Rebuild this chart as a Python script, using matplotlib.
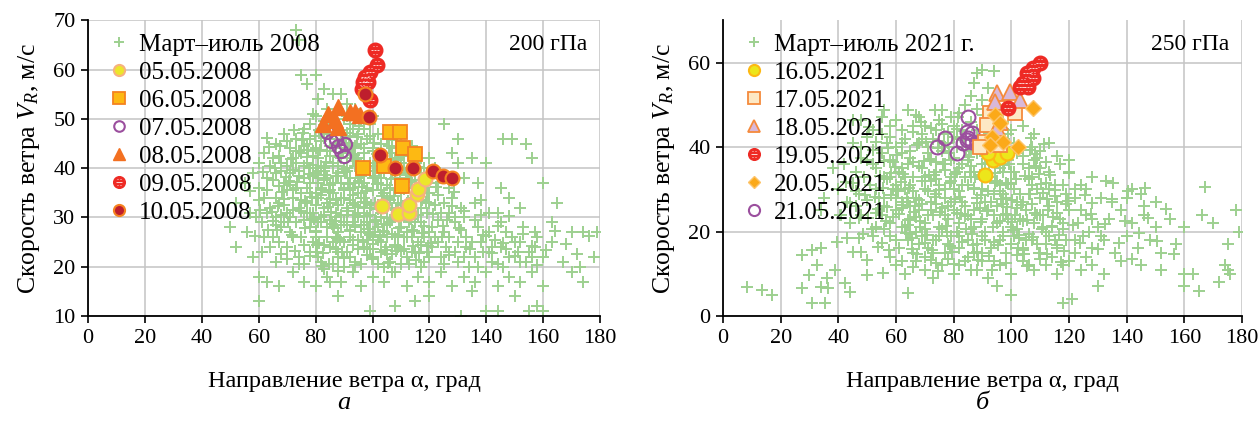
import matplotlib
matplotlib.use("Agg")
import matplotlib.pyplot as plt
from matplotlib.path import Path
from matplotlib.legend_handler import HandlerTuple

plt.rcParams['font.family'] = ['Liberation Serif', 'DejaVu Serif']
plt.rcParams['mathtext.fontset'] = 'custom'
plt.rcParams['mathtext.rm'] = 'Liberation Serif'
plt.rcParams['mathtext.it'] = 'Liberation Serif:italic'

# ---------------- data: panel a (200 hPa, 2008) ----------------
cloud_2008 = [
    (73,68),(74,66),(75,59),(80,59),(77,57),(83,56),(86,55),(89,55),(81,54),(91,53),(84,52),(88,52),(94,52),
    (79,51),(86,50),(96,50),(92,49),(99,49),(76,48),(82,48),(84,47),(95,47),(102,47),(69,47),(73,46),(78,46),
    (90,46),(98,46),(105,46),(66,45),(71,44),(80,44),(87,44),(93,44),(100,44),(107,44),(112,44),(125,49),
    (130,46),(146,46),(149,46),(154,45),(156,42),(120,42),(128,43),(135,42),
    (62,43),(65,42),(68,41),(72,42),(75,43),(77,41),(81,42),(83,40),(86,41),(89,42),(91,40),(95,42),(97,41),
    (101,41),(103,43),(106,41),(109,42),(111,40),(115,41),(118,40),(122,40),(60,41),(58,39),(130,41),(140,41),
    (55,37),(60,36),(63,38),(66,39),(69,37),(71,39),(73,36),(76,38),(78,37),(80,39),(82,36),(84,38),(86,37),
    (88,39),(90,36),(92,38),(94,37),(96,39),(98,36),(100,38),(102,37),(104,39),(106,36),(108,38),(110,37),
    (113,39),(116,36),(119,38),(123,37),(127,36),(132,38),(137,37),(145,36),(160,37),
    (52,33),(57,31),(62,34),(64,32),(67,33),(70,31),(72,34),(74,32),(77,33),(79,31),(81,34),(83,32),(85,33),
    (87,31),(89,34),(91,32),(93,33),(95,31),(97,34),(99,32),(101,33),(103,31),(105,34),(107,32),(109,33),
    (111,31),(114,34),(117,32),(120,33),(124,31),(128,34),(131,32),(136,33),(141,31),(148,34),(152,32),(165,33),
    (50,28),(56,27),(61,29),(65,26),(68,28),(71,27),(73,29),(75,26),(78,28),(80,27),(82,29),(84,26),(86,28),
    (88,27),(90,29),(92,26),(94,28),(96,27),(98,29),(100,26),(102,28),(104,27),(106,29),(108,26),(110,28),
    (112,27),(115,29),(118,26),(121,28),(125,27),(129,29),(133,26),(137,28),(141,27),(145,29),(149,26),
    (153,28),(157,27),(163,29),(170,27),(174,27),(179,27),
    (52,24),(58,22),(61,23),(66,21),(70,24),(74,22),(78,23),(82,21),(85,24),(88,22),(91,23),(94,21),(97,24),
    (100,22),(103,23),(106,21),(109,24),(112,22),(115,23),(118,21),(121,24),(124,22),(127,23),(130,21),
    (133,24),(136,22),(139,23),(142,21),(145,24),(148,22),(151,23),(154,21),(157,24),(160,22),(163,25),
    (167,21),(173,20),(178,22),
    (60,18),(63,17),(67,16),(72,19),(76,17),(80,16),(84,18),(89,17),(93,19),(96,16),(100,18),(104,17),
    (108,19),(112,16),(116,18),(120,17),(124,19),(128,16),(132,18),(136,17),(140,19),(144,16),(148,18),
    (152,17),(156,19),(160,16),(174,17),(170,19),
    (60,13),(99,11),(108,12),(115,13),(131,10),(140,11),(144,11),(155,11),(158,12),(160,11),(88,14),
    (120,14),(150,14),(135,15),
    (76,44.5),(79,42.5),(81,39.5),(83,37.5),(85,35.5),(87,33.5),(89,30.5),(91,28.5),(93,25.5),(95,23.5),
    (84,43.5),(86,40.5),(88,38.5),(90,35.5),(92,33.5),(94,30.5),(96,28.5),(98,25.5),(100,23.5),(102,20.5),
    (80,35),(82,30),(84,28),(86,25),(88,23),(90,20),(99,41),(101,38.5),(103,35.5),(105,32.5),(107,29.5),
    (109,26.5),(111,23.5),(113,20.5),(97,44),(93,41.5),(78,40),(74,38.5),(70,35.5),(68,30.5),(66,28.5),
    (64,24),(77,31),(79,25),(81,22),(83,19.5),(85,17),(95,35),(97,32),(99,29),(101,27),(103,25),(105,22.5),
    (107,19),(110,35),(112,30),(114,26),(116,25),(119,23),(122,26),(126,24),(130,25),(134,20),(138,25),
    (142,24),(146,20),(150,25),(155,23),(117,39),(114,36),(120,35),(125,33),(129,30),(73,41),(75,35),
    (71,30),(87,46),(91,44),(85,47),(92,46.5),(94,44.5),
    (78,49),(80,50.5),(83,49.5),(87,48.5),(90,50),(93,48),(97,48),(100,50.5),
    (70,45.5),(74,43.5),(77,45),(82,45.5),(85,44.5),(89,45.5),(92,43),(96,45),(99,46.5),(103,45),(106,43),
    (110,45.5),(114,44.5),
    (64,40.5),(67,42.5),(70,40.5),(73,43.5),(76,40.5),(79,43.5),(82,40.5),(85,42.5),(88,40.5),(91,42),
    (94,40.5),(97,43),(100,40.5),(104,41.5),(107,43),(110,41),(113,42.5),(117,42),
    (65,37.5),(68,39.5),(71,36.5),(74,39.5),(77,36),(79,38.5),(81,37),(83,39.5),(85,36.5),(87,38.5),(89,37),
    (91,39.5),(93,36),(95,38),(97,37),(99,39.5),(103,38),(105,36.5),(107,39.5),(109,36),(112,38),(115,37.5),
    (118,36.5),(121,38.5),
    (60,33.5),(63,35.5),(66,34),(69,32.5),(72,35.5),(75,33.5),(78,35),(80,32.5),(82,34.5),(84,33),(86,35),
    (88,32.5),(90,34),(92,35.5),(94,32.5),(96,34),(98,33),(100,35.5),(102,32.5),(104,35),(106,33.5),
    (108,35.5),(110,32.5),(113,32),(116,34.5),(119,35),(122,32.5),
    (59,30),(63,31),(66,30),(69,29),(72,31.5),(76,29.5),(78,31),(81,29),(83,30.5),(85,29.5),(87,30),(89,28.5),
    (91,30.5),(93,29),(95,30),(97,28.5),(99,30.5),(101,29.5),(103,30),(105,28.5),(108,30.5),(110,29.5),
    (113,29),(116,30.5),(119,31),(123,29.5),(127,31),(132,30),(138,30.5),(144,31),
    (62,26),(67,25),(72,26),(76,24.5),(80,26),(83,24.5),(87,26),(90,25),(92,27.5),(95,25.5),(99,26.5),
    (102,25.5),(105,26),(108,24.5),(111,26),(114,27.5),(117,24.5),(120,27),(123,25),(127,26),(131,27.5),
    (135,25),(139,26.5),(143,25.5),(147,27),(152,25),(158,26),
    (70,21.5),(76,20.5),(80,23),(86,20.5),(92,22),(96,20.5),(99,23.5),(104,20),(107,22.5),(110,20.5),
    (114,23),(117,20),(120,22),(125,20.5),(129,23),(132,22),(137,20),(141,23),(144,20.5),(147,23.5),
    (152,21),(156,22),
    (63.5,44.2),(65.8,40.1),(67.2,36.3),(68.9,33.8),(70.4,29.1),(71.7,26.4),(72.8,23.2),(74.3,20.6),
    (75.6,47.2),(76.9,42.3),(77.8,38.9),(78.7,34.2),(79.4,29.7),(80.2,27.3),(81.3,24.8),(82.1,20.1),
    (82.9,46.1),(83.8,41.2),(84.6,35.2),(85.4,31.1),(86.3,27.9),(87.1,23.6),(87.9,19.2),(88.8,47.8),
    (89.6,43.1),(90.5,39.2),(91.3,31.4),(92.2,27.2),(93.1,24.4),(93.9,20.3),(94.7,46.3),(95.6,39.8),
    (96.4,36.2),(97.3,33.1),(98.1,30.2),(98.9,26.8),(99.8,21.6),(100.6,45.2),(101.5,42.8),(102.3,39.6),
    (103.2,34.3),(104.1,28.6),(104.9,24.1),(105.8,44.6),(106.6,37.8),(107.5,34.4),(108.3,31.6),(109.2,27.9),
    (110.1,23.1),(110.9,42.4),(111.8,38.6),(112.6,33.3),(113.5,29.6),(114.3,24.2),(115.2,21.3),(116.1,40.2),
    (117.3,33.5),(118.2,28.2),(64.6,31.2),(66.3,27.4),(67.8,22.6),(69.5,38.2),(71.2,41.8),(73.6,37.2),
    (74.8,31.3),(76.2,27.8),(78.1,22.2),(79.8,46.6),(81.6,43.7),(83.3,38.6),(85.1,33.7),(86.8,29.2),
    (88.4,25.4),(90.1,21.8),(91.8,45.2),(93.4,42.6),(95.2,37.3),(96.9,30.9),(98.5,27.6),(100.2,24.6),
    (101.9,31.8),(103.6,27.3),(105.3,20.7),(107,45.7),(108.7,41.6),(110.4,30.8),(112.1,26.1),(113.8,44.1),
    (115.6,35.4),(117.5,26.8),(119.4,24.2),(121.2,30.6),(123.1,34.6),(124.9,28.3),(126.8,22.4),(128.6,35.2),
    (130.5,27.8),(132.3,31.4),(134.2,23.6),(136.1,29.4),(138,33.6),(140,26.2),(142,22.8),(144,28.3),
    (146,24.9),(148,30.2),(150,22.2),(153,26.7),(156,24.3),(158,20.4),(161,23.4),(164,27.3),(168,24.6),
    (172,22.6),(176,26.2),
    (75.3,45.8),(77.4,43.6),(79.1,40.7),(80.8,38.1),(82.4,35.6),(84.2,32.1),(85.9,28.6),(87.6,25.8),
    (89.2,22.9),(90.9,47.1),(92.6,44.2),(94.3,41.9),(96.1,38.4),(97.8,35.3),(99.4,32.6),(101.1,29.3),
    (102.8,26.4),(104.4,23.4),(106.1,47.2),(107.8,42.1),(109.5,39.1),(111.2,35.8),(112.9,31.2),(114.6,27.3),
    (116.3,22.8),(76.2,33.4),(78.3,29.4),(80.4,24.4),(82.6,22.7),(84.8,20.6),(86.5,44.2),(88.2,42.2),
    (89.9,39.8),(91.5,36.8),(93.3,34.6),(95,32.2),(96.6,25.1),(98.2,22.4),(100,43.4),(101.6,36.7),
    (103.3,32.8),(105,29.9),(106.7,26.7),(108.4,23.2),(110.1,44.3),(111.7,32.4),(113.4,37.2),(115.1,31.9),
    (117,29.1),(118.8,33.2),(120.6,24.9),(122.4,36.2),(124.3,26.1),(126.2,29.5),(128.1,32.3),(72.2,39.6),
    (70.6,37.4),(68.3,35.1),(66.8,32.3),(65.1,29.2),(63.2,27.4),(61.6,39.2),(60.3,31.6),(58.6,26.2),
    (57.1,35.4),(62.9,46.2),(67.6,44.6),(72.5,47.7),(81.1,47.8),(86.2,48.9),(91.1,50.6),(95.3,48.6),
]
d0505 = [(103.4,32.3),(109,30.7),(113,30.9),(113,32.5),(115.7,34.7),(116,35.7),(118.5,37.8)]
d0605 = [(106.2,47.4),(109.7,47.4),(110.8,44),(115,42.8),(96.7,40),(104,40.5),(110.4,36.4)]
d0705 = [(84,47.3),(85.5,45.5),(88,44.5),(89,43.5),(90,42.5),(90.5,45),(87,46)]
d0805 = [(82.6,49),(84.4,51),(88,52.4),(92,51.4),(94,51.4),(88,48.4),(86.9,49.8),(95.6,50.8)]
d0905 = [(100.9,63.9),(101.6,60.9),(99,59.5),(97.4,58.5),(96.7,57.5),(96.3,56),(99,53.9),(98.5,57.5)]
d1005 = [(97.4,55.1),(98.8,50.4),(102.7,42.6),(108,40),(114.3,40),(121.3,39.4),(124.8,38.4),(128,38)]

# ---------------- data: panel b (250 hPa, 2021) ----------------
cloud_2021 = [
    (88,57.6),(90,58.3),(94,57.9),(87,55.2),(86,52),(90,51.2),(92,54),(84,50),(88,49),(95,50),(82,48),(92,47),(97,46),
    (45,46.4),(48,46.4),(55,47),(56,48.8),(60,46.4),(64,48.8),(67,47.6),(73.5,48.8),(76,48.8),(79,47.2),(70,45),
    (62,44),(58,45),(52,44),(66,43.5),(74,44),(80,45),(83,44),(86,46),(100,44),(104,45),(108,43),
    (50,42.4),(52,39.3),(45,41),(48,40),(55,43),(57,41),(60,40),(63,42),(65,39),(68,41),(71,40),(73,42),(76,39),
    (78,41),(81,40),(84,42),(86,39),(89,41),(92,40),(95,42),(98,39),(101,41),(104,38),(107,40),(110,39),(113,41),
    (116,38),(120,37),
    (38,35),(42,36),(46,34),(50,37),(53,35),(56,33),(58,37),(61,34),(64,36),(66,33),(69,35),(72,37),(74,34),
    (77,36),(79,33),(82,35),(85,37),(87,34),(90,36),(93,33),(96,35),(99,37),(101,34),(104,36),(107,33),(110,35),
    (113,34),(117,36),(120,34),(124,31),(128,33),(133,32),(120,33.9),(142,30),(145,29),
    (35,28),(40,30),(43,27),(47,29),(51,31),(54,28),(56,28),(57,25.8),(59,30),(62,27),(65,31),(67,28),(70,30),
    (72,27),(75,31),(77,28),(80,30),(83,27),(85,31),(88,28),(90,30),(93,27),(96,31),(98,28),(101,30),(104,27),
    (107,31),(110,28),(113,30),(116,27),(119,29),(122,28),(126,30),(128,26.8),(131,28),(135,27),(140,28),
    (146,26),(150,27),(167,30.5),(166,24),
    (34,25),(40.6,24),(41,23.9),(44,22),(48,24),(53,21),(55,24),(58,22),(60,25),(63,21),(65,23),(68,25),(70,22),
    (73,24),(75,21),(78,23),(80,25),(82,22),(85,24),(87,21),(90,23),(92,25),(95,22),(97,24),(100,21),(103,23),
    (105,25),(108,22),(111,24),(114,21),(117,23),(120,25),(123,22),(126,24),(130,21),(134,23),(138,25),(142,22),
    (146,24),(150,21),(155,23),(178,25),(170,22),(160,21),
    (39.5,17.5),(43,18.5),(45,15.2),(47,18.5),(48,15.2),(50,13.3),(55,17.3),(58,19),(61,16),(64,18),(66,15),
    (69,19),(71,16),(74,18),(77,15),(79,19),(82,16),(85,18),(87,15),(90,19),(93,16),(96,18),(98,15),(101,19),
    (104,16),(107,18),(110,15),(113,19),(116,16),(119,18),(122,15),(125,19),(128,16),(132,18),(136,15),(140,19),
    (144,16),(148,18),(152,15),(157,17),(179,20),(175,17),(27.4,14.5),(31,15.6),(34,16),(32.6,12),
    (30,9.7),(36,9),(39,10.9),(50,9.7),(55.5,10.2),(60,12),(63,10),(67,13),(70,11),(73,9),(76,12),(80,10),
    (84,13),(88,11),(92,9),(96,12),(100,10),(104,13),(108,11),(112,12),(116,10),(120,13),(124,11),(128,12),
    (132,10),(138,13),(145,12),(152,11),(160,10),(163,10),(176,10),(175,11),(174,12),
    (8.3,6.9),(13.5,6.2),(17,5),(27.4,6.6),(31,3.1),(35.4,3.1),(34,6.9),(36.4,6.6),(42.3,7.8),(44,5.7),(64,5.4),
    (118,3),(121,4),(165,6),(172,8),(160,7),(95,7),(100,5),(130,7),
    (62,38.5),(66,36.5),(70,33),(74,29),(78,26),(82,19),(86,33),(88,44),(91,38),(94,29),(97,20),(99,43),
    (102,27),(105,18),(108,37),(111,21),(76,45.5),(80,42.5),(72,32),(68,27.5),(64,21.5),(60,28),(85,14),
    (90,13),(95,26),(100,34),(103,40),(106,29),(109,24),(112,17),(115,31),(118,22),(58,33),(63,30),(67,20),
    (71,24),(75,19),(79,37),(83,31),(87,25),(89,33.5),(93,38),(96,22.5),(98,31.5),(77,40),(81,34),(69,43),
    (65,26),(73,15),
    (58,42.5),(62,41),(66,45),(69,42),(72,44.5),(75,41.5),(78,43.5),(81,42),(75,46.5),(68,47),
    (48,37.5),(52,36),(55,38.5),(59,36.5),(62,35),(65,37.5),(68,35.5),(71,38.5),(74,36.5),(77,34.5),(80,37.5),
    (83,36),(86,35.5),(88,38.5),(91,34.5),(94,36.5),(97,34),(102,38.5),(106,35),(109,37.5),(112,36.5),
    (45,31.5),(49,33),(53,30),(57,32.5),(60,31),(63,33),(66,29.5),(69,32),(71,29.5),(74,32.5),(77,30),(79,32),
    (82,29.5),(84,33),(87,30),(90,32.5),(92,29.5),(95,32),(97,29),(100,31.5),(103,29),(106,32.5),(109,30),
    (112,31.5),(115,28.5),(118,31),(122,30),
    (46,26),(50,27.5),(53,24.5),(56,26),(59,23.5),(62,25.5),(64,27),(67,23.5),(69,26.5),(72,25),(74,26.5),
    (77,24),(79,27),(81,24.5),(84,26),(86,23),(89,25.5),(91,27),(94,24),(97,26.5),(99,23),(102,25.5),
    (104,22.5),(107,26.5),(110,24),(113,26),(116,24.5),(119,26.5),(124,25),(128,23),
    (52,19),(56,20.5),(60,18),(62,21),(65,19.5),(68,17),(70,20.5),(73,18),(76,20.5),(78,17),(81,20),(83,17.5),
    (86,20.5),(88,17),(91,20),(94,17.5),(97,19),(100,17),(102,20.5),(106,19.5),(109,17),(112,20),(115,18),
    (118,20.5),(122,18),(127,20),(131,19),
    (58,14),(62,13),(66,11.5),(70,14),(74,12.5),(78,13.5),(82,12),(86,11),(90,15),(94,13),(98,12.5),
    (102,14.5),(106,12),(110,13.5),(114,14),(118,12),(126,14),
    (50.5,44.8),(53.2,41.1),(55.8,36.8),(58.3,33.9),(60.7,29.6),(62.4,26.3),(64.1,22.8),(65.7,18.4),
    (67.3,14.6),(68.8,45.9),(70.4,41.3),(71.9,37.1),(73.3,33.4),(74.8,29.8),(76.1,25.6),(77.5,21.4),
    (78.9,16.6),(80.2,12.4),(81.6,47.1),(82.9,43.8),(84.3,39.2),(85.6,34.1),(86.9,30.4),(88.2,26.7),
    (89.5,22.3),(90.8,18.1),(92.1,14.3),(93.4,10.8),(94.7,44.1),(96.1,39.6),(97.4,35.7),(98.7,31.2),
    (100.1,27.4),(101.4,23.8),(102.8,19.1),(104.1,15.6),(105.5,11.9),(106.9,42.2),(108.3,38.4),(109.7,33.6),
    (111.1,29.2),(112.6,25.1),(114.1,21.2),(115.7,16.7),(117.3,12.8),(57.1,39.8),(59.6,35.2),(61.9,31.7),
    (63.8,27.9),(66.1,24.6),(68.2,21.1),(70.1,17.4),(72.3,13.2),(74.4,10.6),(76.6,43.2),(78.4,38.6),
    (80.6,33.7),(82.3,28.1),(84.1,23.7),(86.2,19.3),(88.1,15.2),(90.3,47.6),(92.4,43.3),(94.2,31.6),
    (96.4,27.8),(98.3,24.1),(100.6,20.4),(102.4,16.2),(104.6,33.1),(106.5,28.8),(108.2,24.4),(110.6,20.6),
    (112.4,14.7),(55.4,30.3),(53.6,25.3),(51.8,20.7),(49.3,28.6),(47.1,23.1),(44.2,26.8),(42.5,31.8),
    (119.6,27.3),(121.4,21.6),(123.7,17.2),(125.6,28.6),(127.8,24.2),(130.1,15.8),(132.6,21.7),(134.9,27.6),
    (137.2,17.4),(139.5,22.4),(141.8,13.6),(144.1,19.7),(147.3,23.1),(150.6,17.8),(153.8,25.4),(156.5,14.6),
    (140.5,29.6),(146.2,30.4),(135.3,31.6),
    (60.4,38.2),(62.3,33.7),(64.5,30.2),(66.6,26.1),(68.4,22.4),(70.6,19.1),(72.4,15.6),(74.6,39.8),
    (76.3,35.9),(78.6,31.4),(80.4,27.6),(82.6,24.1),(84.4,20.6),(86.6,16.9),(88.4,13.2),(90.6,40.6),
    (92.3,36.2),(94.5,33.8),(96.2,29.6),(98.4,25.9),(100.3,22.2),(102.5,18.4),(104.3,14.6),(106.5,39.4),
    (108.6,35.4),(110.3,31.2),(112.2,27.6),(114.3,23.4),(116.4,19.2),(118.2,15.4),(61.2,24.1),(63.4,19.6),
    (65.6,15.8),(67.4,40.4),(69.6,36.8),(71.5,33.4),(73.6,28.2),(75.4,24.6),(77.6,19.8),(79.5,15.1),
    (81.3,44.3),(83.5,41.6),(85.3,37.7),(87.5,32.8),(89.4,28.6),(91.6,24.9),(93.5,21.1),(95.4,16.7),
    (97.5,41.8),(99.3,36.1),(101.6,32.4),(103.4,26.2),(105.6,22.8),(107.4,18.6),(109.5,14.9),(111.4,40.8),
    (113.3,33.4),(115.2,29.9),(58.2,28.7),(56.4,22.6),(54.3,33.2),(52.6,28.1),(50.2,23.3),(48.4,19.4),
    (46.3,29.7),(57.6,15.6),(53.8,16.4),
]
d1605 = [(90.9,33.4),(93.7,37),(96,37.7),(98.5,38.6),(92,38.6),(90.2,40)]
d1705 = [(92.6,48),(91.5,45.3),(101.3,48),(91,41.2),(96,40.5),(89,40)]
d1805 = [(95,52.8),(99.5,53),(103,51.2),(94.3,50.7),(96,46),(95,44.5)]
d1905 = [(110,60),(107.6,58.8),(105.4,57.6),(107.6,56.4),(104,55.2),(103,54.3),(105.8,54.3),(98.9,49.3)]
d2005 = [(107.6,49.3),(94.3,47.6),(93.3,42.4),(97.2,41.2),(102.3,40),(92.6,40.5),(96,45.7)]
d2105 = [(74.2,40),(77,42.2),(81.2,38.6),(85,47),(84.6,43.6),(86.3,43.3),(84.6,41.7),(86.3,41.2),(88,41),(83.2,41),(85,42.2)]

xticks = [0, 20, 40, 60, 80, 100, 120, 140, 160, 180]
yticks_a = [10, 20, 30, 40, 50, 60, 70]
yticks_b = [0, 20, 40, 60]

GREEN = '#9dd08f'

# short white dashes drawn over red circles ("hatched" marker)
dash_verts = [(-0.3, 0.45), (-0.08, 0.45), (0.08, 0.45), (0.3, 0.45),
              (-0.5, 0.0), (-0.2, 0.0), (-0.1, 0.0), (0.1, 0.0), (0.2, 0.0), (0.5, 0.0),
              (-0.3, -0.45), (-0.08, -0.45), (0.08, -0.45), (0.3, -0.45)]
dash_codes = [Path.MOVETO, Path.LINETO] * 7
DASH = Path(dash_verts, dash_codes)

fig = plt.figure(figsize=(12.58, 4.24), dpi=100)
ax1 = fig.add_axes([0.070, 0.2547, 0.407, 0.6973])
ax2 = fig.add_axes([0.5747, 0.2547, 0.4126, 0.6973])


def xy(pts):
    return [p[0] for p in pts], [p[1] for p in pts]


def cloud(ax, pts, label):
    x, y = xy(pts)
    return ax.plot(x, y, linestyle='none', marker='+', ms=8.5, mew=1.4, color=GREEN, label=label, zorder=2)[0]


def hatched(ax, pts, ms=10.5):
    x, y = xy(pts)
    c = ax.plot(x, y, linestyle='none', marker='o', ms=ms, mfc='#ee2a24', mec='#ee2a24', mew=1, zorder=4)[0]
    d = ax.plot(x, y, linestyle='none', marker=DASH, ms=ms * 0.55, mfc='none', mec='white', mew=0.55,
                zorder=4.5)[0]
    return (c, d)


def mk(ax, pts, marker, ms, fc, ec, mew=1.3, z=3):
    x, y = xy(pts)
    return ax.plot(x, y, linestyle='none', marker=marker, ms=ms, mfc=fc, mec=ec, mew=mew, zorder=z)[0]


# ---- panel a ----
h = []
h.append(cloud(ax1, cloud_2008, 'Март\u2013июль 2008'))
h.append(mk(ax1, d0705, 'o', 9.5, 'none', '#9b4f9e', 1.5, 3))
h.append(mk(ax1, d0805, '^', 11, '#f37021', '#f37021', 1.0, 3))
h.append(mk(ax1, d0605, 's', 10, '#fdb913', '#f58220', 1.3, 3.2))
h.append(mk(ax1, d0505, 'o', 10, '#ece62a', '#f7b27d', 1.5, 3.3))
h.append(hatched(ax1, d0905))
h.append(mk(ax1, d1005, 'o', 10, '#be1e2d', '#f58220', 1.5, 5))
labels_a = ['Март\u2013июль 2008', '05.05.2008', '06.05.2008', '07.05.2008', '08.05.2008', '09.05.2008', '10.05.2008']
handles_a = [h[0], h[4], h[3], h[1], h[2], h[5], h[6]]

# ---- panel b ----
g = []
g.append(cloud(ax2, cloud_2021, 'Март\u2013июль 2021 г.'))
g.append(mk(ax2, d2105, 'o', 10, 'none', '#9b4f9e', 1.5, 3))
g.append(mk(ax2, d1605, 'o', 10, '#ece61b', '#fdb913', 1.5, 3.1))
g.append(mk(ax2, d1705, 's', 10, '#fde8c4', '#f58a3c', 1.3, 3.2))
g.append(mk(ax2, d1805, '^', 11, '#d9b8d9', '#f58a3c', 1.3, 3.3))
g.append(mk(ax2, d2005, 'D', 8, '#fba919', '#fdc46a', 1.0, 3.4))
g.append(hatched(ax2, d1905))
labels_b = ['Март\u2013июль 2021 г.', '16.05.2021', '17.05.2021', '18.05.2021', '19.05.2021', '20.05.2021', '21.05.2021']
handles_b = [g[0], g[2], g[3], g[4], g[6], g[5], g[1]]

for ax, yt, hs, ls, txt, lab in [(ax1, yticks_a, handles_a, labels_a, '200 гПа', 'а'),
                                  (ax2, yticks_b, handles_b, labels_b, '250 гПа', 'б')]:
    ax.set_xlim(0, 180)
    ax.set_ylim(yt[0], 70)
    ax.set_xticks(xticks)
    ax.set_yticks(yt)
    ax.grid(True, color='#c4c4c4', linewidth=1.1)
    ax.set_axisbelow(True)
    for s in ['top', 'right']:
        ax.spines[s].set_visible(False)
    for s in ['left', 'bottom']:
        ax.spines[s].set_linewidth(1.3)
        ax.spines[s].set_color('black')
    ax.tick_params(direction='out', length=5, width=1.2, labelsize=16, colors='black', pad=4)
    ax.set_xlabel('Направление ветра α, град', fontsize=17.5, labelpad=17)
    ax.set_ylabel('Скорость ветра $V_R$, м/с', fontsize=18.5, labelpad=8)
    ax.text(0.975, 0.92, txt, transform=ax.transAxes, ha='right', va='center', fontsize=17)
    ax.text(0.5, -0.295, lab, transform=ax.transAxes, ha='center', va='center', fontsize=19, style='italic')
    ax.legend(hs, ls, loc='upper left', bbox_to_anchor=(0.0, 1.02), frameon=False, fontsize=18,
              handlelength=1.0, handletextpad=0.28, labelspacing=0.22, borderaxespad=0.35,
              handler_map={tuple: HandlerTuple(ndivide=1, pad=0)}, markerscale=0.8)

fig.savefig('out.png', dpi=100)
